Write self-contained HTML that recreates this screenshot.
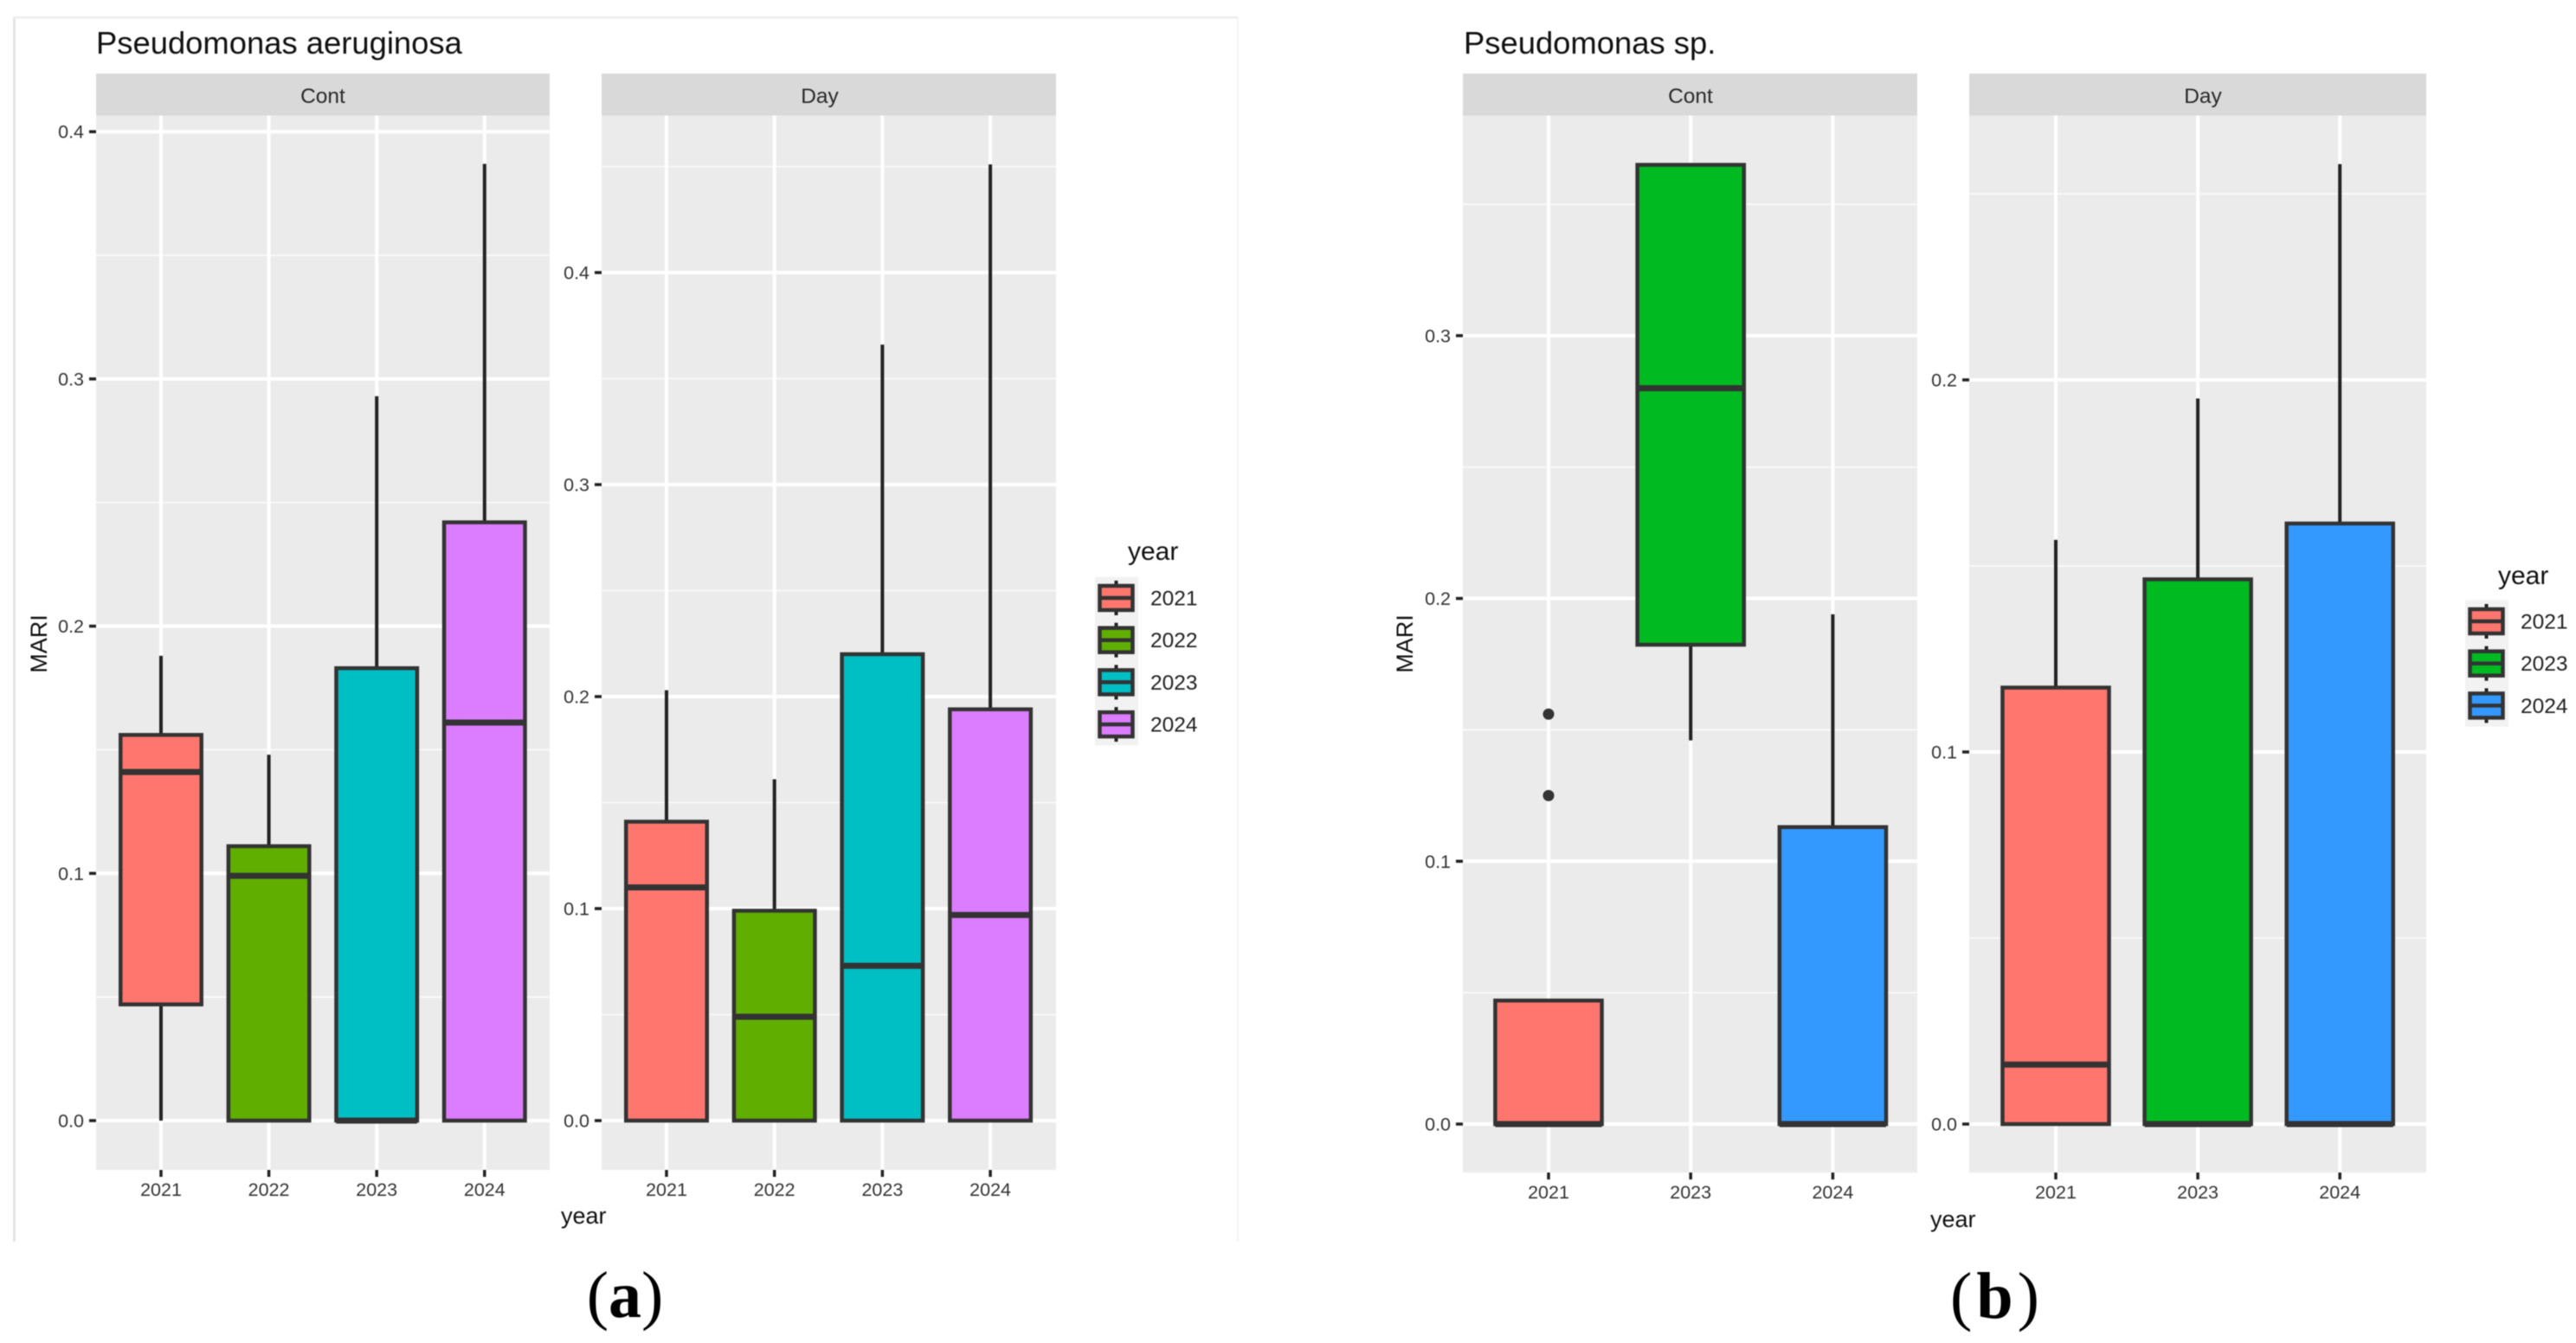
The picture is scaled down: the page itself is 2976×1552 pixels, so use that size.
<!DOCTYPE html>
<html lang="en">
<head>
<meta charset="utf-8">
<title>MARI by year: Pseudomonas aeruginosa and Pseudomonas sp.</title>
<style>
html,body{margin:0;padding:0;background:#fff;width:2976px;height:1552px;overflow:hidden}
svg{display:block;filter:blur(0.6px)}
text{font-family:"Liberation Sans",sans-serif}
.tick{font-size:21.5px;fill:#333}
.axis-title{font-size:27px;fill:#111}
.plot-title{font-size:36.4px;fill:#111}
.strip{font-size:24.5px;fill:#2a2a2a}
.leg-title{font-size:30px;fill:#111}
.leg-label{font-size:24.5px;fill:#222}
.sub{font-family:"Liberation Serif",serif;font-size:76px;fill:#000}
</style>
</head>
<body>
<svg id="figure" xmlns="http://www.w3.org/2000/svg" width="2976" height="1552" viewBox="0 0 2976 1552">
  <rect width="2976" height="1552" fill="#fff"/>
  <g>
    <rect x="15" y="19" width="3" height="1416" fill="#e4e4e4"/>
    <rect x="15" y="19" width="1416" height="2.5" fill="#ececec"/>
    <rect x="1429" y="19" width="2" height="1416" fill="#f3f3f3"/>
  </g>
  <text class="plot-title" x="111" y="62">Pseudomonas aeruginosa</text>
  <text class="plot-title" x="1691" y="62">Pseudomonas sp.</text>
  <g id="layer"></g>
  <text class="axis-title" transform="translate(54 744) rotate(-90)" text-anchor="middle">MARI</text>
  <text class="axis-title" transform="translate(1632 744) rotate(-90)" text-anchor="middle">MARI</text>
  <text class="axis-title" x="648" y="1414">year</text>
  <text class="axis-title" x="2230" y="1418">year</text>
  <text class="leg-title" x="1303" y="647">year</text>
  <text class="leg-title" x="2886" y="675">year</text>
  <g id="legends"></g>
  <text class="sub" x="722" y="1522" text-anchor="middle">(<tspan font-weight="bold">a</tspan>)</text>
  <text class="sub" x="2307" y="1523" text-anchor="middle" letter-spacing="5">(<tspan font-weight="bold">b</tspan>)</text>
</svg>
<script>
// ---- data ----
const yearsA = ['2021', '2022', '2023', '2024'];
const yearsB = ['2021', '2023', '2024'];

const aContHigh = [0.188, 0.148, 0.293, 0.387];
const aContQ3 = [0.156, 0.111, 0.183, 0.242];
const aContMedian = [0.141, 0.099, 0, 0.161];
const aContQ1 = [0.047, 0, 0, 0];
const aContLow = [0, 0, 0, 0];

const aDayHigh = [0.203, 0.161, 0.366, 0.451];
const aDayQ3 = [0.141, 0.099, 0.22, 0.194];
const aDayMedian = [0.11, 0.049, 0.073, 0.097];
const aDayQ1 = [0, 0, 0, 0];
const aDayLow = [0, 0, 0, 0];

const bContHigh = [0.047, 0.365, 0.194];
const bContQ3 = [0.047, 0.365, 0.113];
const bContMedian = [0, 0.28, 0];
const bContQ1 = [0, 0.1824, 0];
const bContLow = [0, 0.146, 0];
const bContOutlierYear = ['2021', '2021'];
const bContOutlierValue = [0.156, 0.125];

const bDayHigh = [0.157, 0.195, 0.258];
const bDayQ3 = [0.1173, 0.1464, 0.1614];
const bDayMedian = [0.016, 0, 0];
const bDayQ1 = [0, 0, 0];
const bDayLow = [0, 0, 0];

const aContTicks = ['0.0', '0.1', '0.2', '0.3', '0.4'];
const aContMinor = [0.05, 0.15, 0.25, 0.35];
const aDayTicks = ['0.0', '0.1', '0.2', '0.3', '0.4'];
const aDayMinor = [0.05, 0.15, 0.25, 0.35, 0.45];
const bContTicks = ['0.0', '0.1', '0.2', '0.3'];
const bContMinor = [0.05, 0.15, 0.25, 0.35];
const bDayTicks = ['0.0', '0.1', '0.2'];
const bDayMinor = [0.05, 0.15, 0.25];

const fillsA = ['#fe766e', '#5fae00', '#00bfc4', '#dc7cff'];
const fillsB = ['#fe766e', '#00ba22', '#3399ff'];

// ---- rendering ----
const NS = 'http://www.w3.org/2000/svg';
const layer = document.getElementById('layer');
const legends = document.getElementById('legends');

function mk(parent, tag, attrs, text) {
  const el = document.createElementNS(NS, tag);
  for (const k in attrs) el.setAttribute(k, attrs[k]);
  if (text !== undefined) el.textContent = text;
  parent.appendChild(el);
  return el;
}

function drawPanel(p) {
  const g = mk(layer, 'g', {});
  
  

  const bottom = p.y0 + p.extra;
  const yScale = v => p.y0 - v * p.unit;
  const xScale = name => p.firstX + p.cats.indexOf(name) * p.step;

  const strip = mk(g, 'rect', {x: p.left, y: 85, width: p.right - p.left, height: 48.5, fill: '#d9d9d9'});
  
  

  const stripLabel = mk(g, 'text', {x: p.stripX, y: 119, 'text-anchor': 'middle', class: 'strip'}, p.title);
  
  

  const bg = mk(g, 'rect', {x: p.left, y: 133.5, width: p.right - p.left, height: bottom - 133.5, fill: '#ebebeb'});
  
  

  p.minor.forEach(v => {
    const l = mk(g, 'line', {x1: p.left, x2: p.right, y1: yScale(v), y2: yScale(v), stroke: '#fff', 'stroke-width': 1.6, 'stroke-opacity': 0.8});
    
    
  });

  p.ticks.forEach(t => {
    const v = parseFloat(t);
    const gl = mk(g, 'line', {x1: p.left, x2: p.right, y1: yScale(v), y2: yScale(v), stroke: '#fff', 'stroke-width': 4});
    
    
    const tk = mk(g, 'line', {x1: p.left - 8, x2: p.left, y1: yScale(v), y2: yScale(v), stroke: '#222', 'stroke-width': 3.5});
    
    
    const lb = mk(g, 'text', {x: p.left - 14, y: yScale(v) + 7.5, 'text-anchor': 'end', class: 'tick'}, t);
    
    
  });

  p.cats.forEach(c => {
    const x = xScale(c);
    const gl = mk(g, 'line', {x1: x, x2: x, y1: 133.5, y2: bottom, stroke: '#fff', 'stroke-width': 4});
    
    
    const tk = mk(g, 'line', {x1: x, x2: x, y1: bottom, y2: bottom + 8, stroke: '#222', 'stroke-width': 3.5});
    
    
    const lb = mk(g, 'text', {x: x, y: bottom + 30, 'text-anchor': 'middle', class: 'tick'}, c);
    
    
  });

  const bw = p.step * 0.75;
  p.cats.forEach((c, i) => {
    const x = xScale(c);
    const upper = mk(g, 'line', {x1: x, x2: x, y1: yScale(p.high[i]), y2: yScale(p.q3[i]), stroke: '#222', 'stroke-width': 4});
    
    
    const lower = mk(g, 'line', {x1: x, x2: x, y1: yScale(p.q1[i]), y2: yScale(p.low[i]), stroke: '#222', 'stroke-width': 4});
    
    
    const box = mk(g, 'rect', {x: x - bw / 2, y: yScale(p.q3[i]), width: bw, height: yScale(p.q1[i]) - yScale(p.q3[i]), fill: p.fills[i], stroke: '#333', 'stroke-width': 4.5});
    
    
    const med = mk(g, 'line', {x1: x - bw / 2, x2: x + bw / 2, y1: yScale(p.median[i]), y2: yScale(p.median[i]), stroke: '#333', 'stroke-width': 7});
    
    
  });

  (p.outV || []).forEach((v, i) => {
    const d = mk(g, 'circle', {cx: xScale(p.outC[i]), cy: yScale(v), r: 6.5, fill: '#333'});
    
    
  });
}

drawPanel({key: 'a-cont', title: 'Cont', cats: yearsA, left: 111, right: 635, stripX: 373, firstX: 186, step: 124.6, y0: 1295, unit: 2857, extra: 57,
  high: aContHigh, q3: aContQ3, median: aContMedian, q1: aContQ1, low: aContLow, ticks: aContTicks, minor: aContMinor, fills: fillsA});
drawPanel({key: 'a-day', title: 'Day', cats: yearsA, left: 695, right: 1220, stripX: 947, firstX: 770, step: 124.7, y0: 1295, unit: 2450, extra: 57,
  high: aDayHigh, q3: aDayQ3, median: aDayMedian, q1: aDayQ1, low: aDayLow, ticks: aDayTicks, minor: aDayMinor, fills: fillsA});
drawPanel({key: 'b-cont', title: 'Cont', cats: yearsB, left: 1690, right: 2215, stripX: 1953, firstX: 1789, step: 164.2, y0: 1299, unit: 3037, extra: 56,
  high: bContHigh, q3: bContQ3, median: bContMedian, q1: bContQ1, low: bContLow, ticks: bContTicks, minor: bContMinor, fills: fillsB,
  outC: bContOutlierYear, outV: bContOutlierValue});
drawPanel({key: 'b-day', title: 'Day', cats: yearsB, left: 2275, right: 2803, stripX: 2545, firstX: 2375, step: 164.1, y0: 1299, unit: 4300, extra: 56,
  high: bDayHigh, q3: bDayQ3, median: bDayMedian, q1: bDayQ1, low: bDayLow, ticks: bDayTicks, minor: bDayMinor, fills: fillsB});

function drawLegend(prefix, cats, fills, bgX, firstCy, spacing, labelX) {
  const boxH = 28, boxW = 38;
  const bg = mk(legends, 'rect', {x: bgX, y: firstCy - spacing / 2, width: 50, height: spacing * cats.length, fill: '#f2f2f2'});
  
  
  cats.forEach((c, i) => {
    const cy = firstCy + i * spacing;
    const cx = bgX + 24.5;
    const w = mk(legends, 'line', {x1: cx, x2: cx, y1: cy - 20, y2: cy + 20, stroke: '#222', 'stroke-width': 4});
    
    
    const b = mk(legends, 'rect', {x: cx - boxW / 2, y: cy - boxH / 2, width: boxW, height: boxH, fill: fills[i], stroke: '#333', 'stroke-width': 4.5});
    
    
    const m = mk(legends, 'line', {x1: cx - boxW / 2, x2: cx + boxW / 2, y1: cy, y2: cy, stroke: '#333', 'stroke-width': 4.5});
    
    
    const t = mk(legends, 'text', {x: labelX, y: cy + 8.5, class: 'leg-label'}, c);
    
    
  });
}
drawLegend('legend-a', yearsA, fillsA, 1265, 691, 48.7, 1329);
drawLegend('legend-b', yearsB, fillsB, 2848, 718, 48.7, 2912);
</script>
</body>
</html>
